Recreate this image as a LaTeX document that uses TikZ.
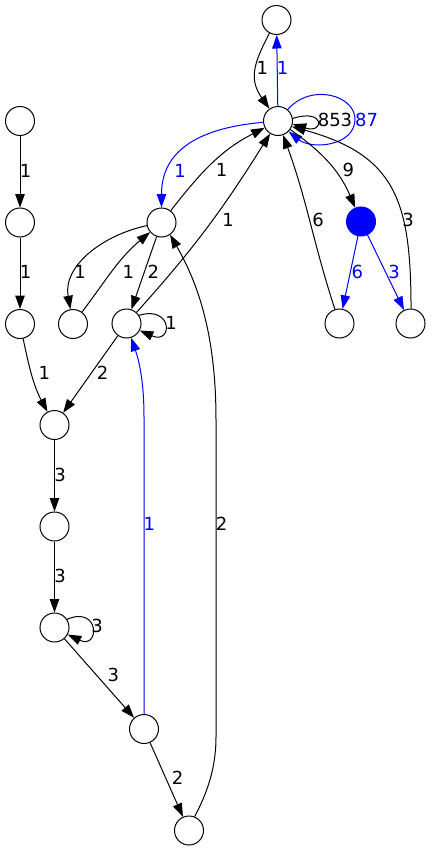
\documentclass[tikz,border=0pt]{standalone}
\usepackage{fontspec}
\setmainfont{DejaVu Sans}
\usetikzlibrary{arrows.meta}
\definecolor{eblue}{RGB}{0,0,255}
\begin{document}
\begin{tikzpicture}[x=1pt,y=-1pt,
  vtx/.style={circle,draw,line width=1pt,minimum size=29pt,inner sep=0pt},
  ed/.style={-{Triangle[length=13.5pt,width=9.5pt]},line width=1pt},
  bl/.style={draw=eblue,color=eblue},
  lbl/.style={inner sep=0pt,font=\fontsize{18}{20}\selectfont},
  lblb/.style={lbl,text=eblue},
]
\useasboundingbox (0,0) rectangle (431,851);
% nodes
\node[vtx] (a) at (276.5,20) {};
\node[vtx] (h) at (278,121) {};
\node[vtx] (b) at (20,121) {};
\node[vtx] (c) at (20,222.5) {};
\node[vtx] (d) at (20,324) {};
\node[vtx] (e) at (161.5,222.5) {};
\node[vtx] (f) at (73,324) {};
\node[vtx] (g) at (126.5,323.5) {};
\node[vtx] (k) at (54.5,425) {};
\node[vtx] (l) at (54.5,526.5) {};
\node[vtx] (m) at (54.5,627.5) {};
\node[vtx] (n) at (144,729) {};
\node[vtx] (o) at (189,830.5) {};
\node[vtx,fill=eblue,draw=eblue] (p) at (361,221.5) {};
\node[vtx] (q) at (339.5,323.5) {};
\node[vtx] (r) at (410.5,323.5) {};
% edges around hub
\draw[ed] (a) to[out=-118,in=125,looseness=1.2] (h);
\node[lbl] (la) at (262.3,68) {1};
\draw[ed,bl] (h) -- (a);
\node[lblb] (lha) at (282.7,68.3) {1};
\draw[ed] (h.10) .. controls (325,108) and (325,134) .. (h.-12);
\node[lbl] (lhh) at (335,120) {853};
\draw[ed,bl] (h.50) .. controls (312,82) and (356,96) .. (355,120) .. controls (354,146) and (312,150) .. (h.-45);
\node[lblb] (lhh2) at (366.5,120) {87};
\draw[ed,bl] (h) to[out=185,in=90,looseness=1.15] (e);
\node[lblb] (lhe) at (180,171) {1};
\draw[ed] (e) to[out=52,in=207] (h);
\node[lbl] (leh) at (221.7,170) {1};
\draw[ed] (g) to[out=48,in=238] (h);
\node[lbl] (lgh) at (228,220) {1};
\draw[ed] (h) to[out=-35,in=113] (p);
\node[lbl] (lhp) at (348.3,170) {9};
\draw[ed] (q) to[out=108,in=-70] (h);
\node[lbl] (lqh) at (318,220) {6};
\draw[ed] (r.88) .. controls (411,200) and (395,155) .. (h.-22);
\node[lbl] (lrh) at (408,220) {3};
\draw[ed,bl] (p) -- (q);
\node[lblb] (lpq) at (357.3,271.7) {6};
\draw[ed,bl] (p) -- (r);
\node[lblb] (lpr) at (394,271.7) {3};
% middle cluster
\draw[ed] (e) to[out=192,in=100] (f);
\node[lbl] (lef) at (80,271.7) {1};
\draw[ed] (f) to[out=53,in=220] (e);
\node[lbl] (lfe) at (128.3,271.7) {1};
\draw[ed] (e) -- (g);
\node[lbl] (leg) at (153.3,271.7) {2};
\draw[ed] (g.33) .. controls (173,305) and (173,345) .. (g.-28);
\node[lbl] (lgg) at (171,323) {1};
\draw[ed] (o.68) .. controls (206,795) and (216,770) .. (216,737) -- (216,420) .. controls (216,330) and (196,280) .. (e.-55);
\node[lbl] (loe) at (221.7,523.5) {2};
\draw[ed,bl] (n) -- (144,417) .. controls (144,375) and (137,355) .. (g.-72);
\node[lblb] (lng) at (149.3,523.5) {1};
% left chain
\draw[ed] (b) -- (c);
\node[lbl] (lbc) at (25.7,170.7) {1};
\draw[ed] (c) -- (d);
\node[lbl] (lcd) at (25.7,271.7) {1};
\draw[ed] (d) to[out=-78,in=118] (k);
\node[lbl] (ldk) at (44.3,373.3) {1};
\draw[ed] (g) -- (k);
\node[lbl] (lgk) at (102.7,373.3) {2};
\draw[ed] (k) -- (l);
\node[lbl] (lkl) at (60,475) {3};
\draw[ed] (l) -- (m);
\node[lbl] (llm) at (60,575.5) {3};
\draw[ed] (m.33) .. controls (100,605) and (100,650) .. (m.-28);
\node[lbl] (lmm) at (97,626) {3};
\draw[ed] (m) -- (n);
\node[lbl] (lmn) at (113.3,675) {3};
\draw[ed] (n) -- (o);
\node[lbl] (lno) at (177.7,778.3) {2};
\end{tikzpicture}
\end{document}
